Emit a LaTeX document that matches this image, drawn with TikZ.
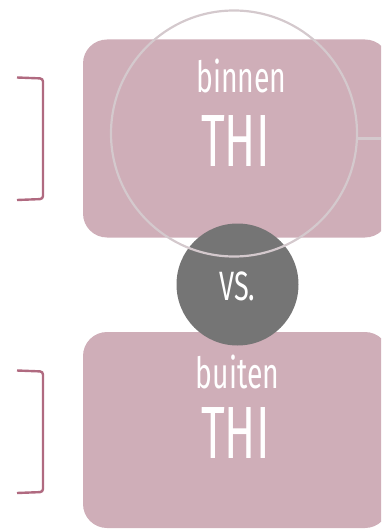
\documentclass[tikz,border=0pt]{standalone}
\usepackage{fontspec}
\newfontfamily\condfont[FakeStretch=0.62]{Fira Sans}
\newfontfamily\condfontw[FakeStretch=0.66]{Fira Sans}
\definecolor{boxpink}{HTML}{CFAEB8}
\definecolor{vsgrey}{HTML}{757575}
\definecolor{ringgrey}{HTML}{D4C9CD}
\definecolor{bracketc}{HTML}{B06A80}
\begin{document}
\begin{tikzpicture}[x=1pt,y=-1pt,
  box/.style={draw=none,fill=boxpink,rounded corners=24pt,minimum width=306pt,inner sep=0pt},
  brk/.style={draw=bracketc,line width=2.4pt,rounded corners=3pt},
  small/.style={text=white,font=\condfontw\fontsize{43}{43}\selectfont,inner sep=0pt,anchor=base},
  big/.style={text=white,font=\condfont\fontsize{74}{74}\selectfont,inner sep=0pt,anchor=base}]
\useasboundingbox (0,0) rectangle (381,529);
\clip (0,0) rectangle (381,529);
\node[box,minimum height=198pt] (top) at (236,138.5) {};
\node[box,minimum height=196pt] (bot) at (236,430) {};
\node[circle,fill=vsgrey,minimum size=122pt,inner sep=0pt] (vs) at (237.5,284.5) {};
\node[circle,draw=ringgrey,line width=2.2pt,minimum size=246pt,inner sep=0pt] (ring) at (234,133.5) {};
\coordinate (edge) at (384,138.5);
\draw[ringgrey,line width=2.2pt] (ring.east |- edge) -- (edge);
\node[small] (t1) at (241.5,93) {binnen};
\node[big] (t2) at (235.5,167) {THI};
\node[small] (b1) at (237.5,388) {buiten};
\node[big] (b2) at (235.5,458) {THI};
\node[text=white,font=\condfontw\fontsize{41}{41}\selectfont,inner sep=0pt,anchor=base] (vstext) at (237.5,300) {VS.};
\draw[brk] (17,77.5) -- (43,78.5) -- (43,199) -- (17,200);
\draw[brk] (17,370.5) -- (43,371.5) -- (43,492) -- (17,493);
\end{tikzpicture}
\end{document}
